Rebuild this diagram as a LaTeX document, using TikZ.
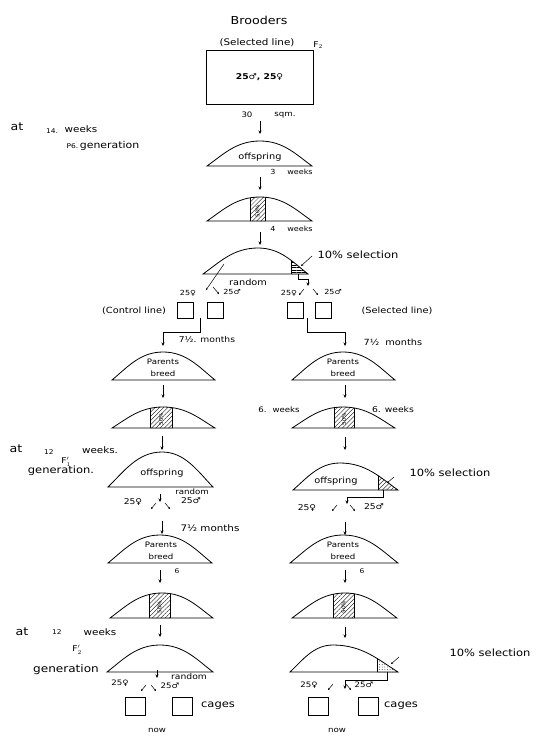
\documentclass[tikz,border=0pt]{standalone}
\usepackage{fontspec}
\setmainfont{DejaVu Sans}[FakeStretch=1.15]
\usetikzlibrary{arrows.meta,patterns,patterns.meta}
\newcommand\bellpath[5]{(#1,#3) .. controls ({#1+0.3*(#5-#1)},{#3-0.45*(#3-#4)}) and ({#5-0.45*(#5-#1)},#4) .. (#5,#4) .. controls ({#5+0.45*(#2-#5)},#4) and ({#2-0.3*(#2-#5)},{#3-0.45*(#3-#4)}) .. (#2,#3)}
\newcommand\bell[5]{\draw[ln] \bellpath{#1}{#2}{#3}{#4}{#5} -- cycle;}
\newcommand\bellhatch[8]{\begin{scope}\clip \bellpath{#1}{#2}{#3}{#4}{#5} -- cycle;
 \draw[line width=0.6pt,#8] (#6,0) rectangle (#7,#3);\end{scope}}
\newcommand\varr[4]{\coordinate (#1s) at (#2,#3); \coordinate (#1e) at (#2,#4); \draw[arr] (#1s) -- (#1e);}
\newcommand\sar[5]{\coordinate (#1s) at (#2,#3); \coordinate (#1e) at (#4,#5); \draw[sarr] (#1s) -- (#1e);}
\tikzset{
 ln/.style={line width=0.8pt},
 arr/.style={line width=0.6pt,-{Stealth[length=3.5pt,width=3pt]}},
 sarr/.style={line width=0.5pt,-{Stealth[length=2.2pt,width=2pt]}},
 cage/.style={draw,line width=0.7pt,inner sep=0pt,minimum width=16pt,minimum height=16pt},
 tf/.style={inner sep=0.5pt,font=\fontsize{#1}{#1}\selectfont},
 hd/.style={pattern={Lines[angle=45,distance=3pt,line width=0.35pt]}},
 hh/.style={pattern={Lines[angle=0,distance=2.5pt,line width=0.35pt]}},
 hx/.style={pattern={Dots[distance=2.6pt,radius=0.4pt]}},
}
\begin{document}
\begin{tikzpicture}[x=1pt,y=-1pt]
\useasboundingbox (0,0) rectangle (550,745);
% ---------- top
\node[tf=11] (brooders) at (259,20) {Brooders};
\node[tf=9] (selline) at (257,43) {(Selected line)};
\node[tf=8] (f2) at (318,45) {F$_2$};
\node[draw,line width=0.8pt,minimum width=107pt,minimum height=54pt,font=\bfseries\fontsize{8}{8}\selectfont] (brbox) at (259.5,77) {25♂, 25♀};
\node[tf=7.5] (n30) at (247,115) {30};
\node[tf=7.5] (sqm) at (285,115) {sqm.};
\varr{a1}{260}{121}{134}
% left label
\node[tf=11] (at1) at (17,127) {at};
\node[tf=6.5] (n14) at (52,131) {14.};
\node[tf=9] (wk1) at (81,129) {weeks};
\node[tf=9.5] (p6) at (103,146) {{\fontsize{6.5}{6.5}\selectfont P6.}\,generation};
% stage 1
\bell{207}{312}{166}{141}{260}
\node[tf=8.5] (off1) at (260,157) {offspring};
\node[tf=7] (n3) at (273,172) {3};
\node[tf=7] (w3) at (300,172) {weeks};
\varr{a2}{260}{177}{190}
% stage 2
\bellhatch{207}{312}{221}{197}{260}{250}{265}{hd}
\bell{207}{312}{221}{197}{260}
\node[tf=5,rotate=90] (p50a) at (257.5,211) {50\%};
\node[tf=7] (n4) at (273,229) {4};
\node[tf=7] (w4) at (300,229) {weeks};
\varr{a3}{260}{232}{245}
% stage 3
\bellhatch{203}{308}{274}{248}{258}{291}{315}{hh}
\bell{203}{308}{274}{248}{258}
\node[tf=10] (sel1) at (358,255) {10\% selection};
\sar{s1}{312}{256}{301}{266}
\node[tf=8.5] (rand1) at (248,282) {random};
\sar{r1}{224}{264}{206}{290}
\sar{r2}{213}{287}{219}{294}
\node[tf=7] (l25f) at (188,293) {25♀};
\node[tf=7] (l25m) at (232,292) {25♂};
\coordinate (h1) at (298,274); \coordinate (h1e) at (308,286);
\draw[arr] (h1) -- (298,279) -| (h1e);
\sar{r3}{304}{289}{299}{295}
\sar{r4}{313}{289}{318}{295}
\node[tf=7] (r25f) at (289,293) {25♀};
\node[tf=7] (r25m) at (333,292) {25♂};
% boxes
\node[cage] (b1) at (185,310) {};
\node[cage] (b2) at (215,310) {};
\node[cage] (b3) at (295,310) {};
\node[cage] (b4) at (323.5,310) {};
\node[tf=8.5] (ctrl) at (134,311) {(Control line)};
\node[tf=8.5] (selr) at (397,311) {(Selected line)};
\coordinate (k1) at (200,318); \coordinate (k1e) at (163,346);
\draw[arr] (k1) -- (200,332) -| (k1e);
\coordinate (k2) at (307,318); \coordinate (k2e) at (345,346);
\draw[arr] (k2) -- (307,332) -| (k2e);
\node[tf=8] (m1) at (207,340) {7½. months};
\node[tf=8.5] (m2) at (393,342) {7½\hspace{6pt}months};
% parents 1
\bell{112}{215}{380}{352}{163}
\node[tf=7.5] (pa1) at (163,362) {Parents};
\node[tf=7.5] (br1) at (163,374) {breed};
\bell{292}{395}{380}{352}{343}
\node[tf=7.5] (pa2) at (343,362) {Parents};
\node[tf=7.5] (br2) at (343,374) {breed};
\varr{a4}{163}{385}{398}
\varr{a5}{345}{385}{398}
% hatched 2
\bellhatch{112}{215}{428}{407}{163}{150}{172}{hd}
\bell{112}{215}{428}{407}{163}
\node[tf=5,rotate=90] (p50b) at (161,419) {50\%};
\bellhatch{292}{395}{428}{407}{343}{334}{354}{hd}
\bell{292}{395}{428}{407}{343}
\node[tf=5,rotate=90] (p50c) at (344,419) {50\%};
\node[tf=7.5] (w6a) at (279,410) {6.\hspace{6pt}weeks};
\node[tf=8] (w6b) at (393,410) {6.\hspace{4pt}weeks};
\varr{a6}{162}{436}{450}
\varr{a7}{345}{437}{450}
% F1 labels
\node[tf=11] (at2) at (16,449) {at};
\node[tf=6.5] (n12a) at (49,452) {12};
\node[tf=9] (wk2) at (100,450) {weeks.};
\node[tf=8] (f1) at (66,462) {F$'_1$};
\node[tf=10] (gen2) at (61,471) {generation.};
% offspring F1 left
\bell{108}{213}{487}{452}{162}
\node[tf=8.5] (off2) at (162,473) {offspring};
\node[tf=7.5] (rand2) at (192,492) {random};
\varr{a8}{160}{494}{502}
\sar{r5}{156}{503}{151}{509}
\sar{r6}{165}{503}{170}{509}
\node[tf=8] (f25a) at (133,502) {25♀};
\node[tf=8] (m25a) at (191,501) {25♂};
\varr{a9}{162}{521}{534}
\node[tf=9] (m3) at (210,528) {7½ months};
% offspring F1 right
\bellhatch{293}{398}{490}{463}{340}{378}{402}{hd}
\bell{293}{398}{490}{463}{340}
\node[tf=8.5] (off3) at (336,481) {offspring};
\sar{s2}{394}{477}{387}{483}
\node[tf=10] (sel2) at (450,473) {10\% selection};
\coordinate (h2) at (383,490); \coordinate (h2e) at (347,504);
\draw[arr] (h2) -- (383,497) -| (h2e);
\sar{r7}{337}{505}{332}{511}
\sar{r8}{350}{505}{355}{511}
\node[tf=8] (f25b) at (307,508) {25♀};
\node[tf=8] (m25b) at (374,507) {25♂};
\varr{a10}{345}{522}{535}
% parents 2
\bell{108}{212}{563}{535}{160}
\node[tf=7.5] (pa3) at (161,545) {Parents};
\node[tf=7.5] (br3) at (161,557) {breed};
\bell{290}{398}{563}{535}{343}
\node[tf=7.5] (pa4) at (343,545) {Parents};
\node[tf=7.5] (br4) at (343,557) {breed};
\varr{a11}{160}{570}{583}
\node[tf=6.5] (six1) at (177,571) {6};
\varr{a12}{345}{570}{583}
\node[tf=6.5] (six2) at (362,571) {6};
% hatched 3
\bellhatch{110}{213}{618}{593}{162}{149}{170}{hd}
\bell{110}{213}{618}{593}{162}
\node[tf=5,rotate=90] (p50d) at (159.5,607) {50\%};
\bellhatch{292}{397}{618}{593}{345}{333}{354}{hd}
\bell{292}{397}{618}{593}{345}
\node[tf=5,rotate=90] (p50e) at (343.5,607) {50\%};
\varr{a13}{160}{625}{637}
\varr{a14}{345}{627}{638}
% F2 labels
\node[tf=11] (at3) at (22,632) {at};
\node[tf=6.5] (n12b) at (57,632) {12};
\node[tf=9] (wk3) at (100,632) {weeks};
\node[tf=8] (f2b) at (77,650) {F$'_2$};
\node[tf=10.5] (gen3) at (66,670) {generation};
% last curves
\bell{107}{213}{672}{645}{160}
\node[tf=8] (rand3) at (189,677) {random};
\varr{a15}{157}{670}{678}
\sar{r9}{146}{685}{141}{691}
\sar{r10}{151}{685}{156}{691}
\node[tf=7.5] (f25c) at (120,683) {25♀};
\node[tf=7.5] (m25c) at (170,686) {25♂};
\bellhatch{290}{398}{672}{645}{333}{377}{402}{hx}
\bell{290}{398}{672}{645}{333}
\sar{s3}{399}{657}{391}{664}
\node[tf=10] (sel3) at (490,653) {10\% selection};
\coordinate (h3) at (387,672); \coordinate (h3e) at (345,689);
\draw[arr] (h3) -- (387,680) -| (h3e);
\sar{r11}{333}{684}{328}{690}
\sar{r12}{346}{684}{351}{690}
\node[tf=7.5] (f25d) at (309,685) {25♀};
\node[tf=7.5] (m25d) at (364,685) {25♂};
% cages
\node[cage,minimum width=20pt,minimum height=18pt] (c1) at (135,706) {};
\node[cage,minimum width=20pt,minimum height=18pt] (c2) at (182.5,706) {};
\node[cage,minimum width=20pt,minimum height=18pt] (c3) at (318,706) {};
\node[cage,minimum width=20pt,minimum height=18pt] (c4) at (368,706) {};
\node[tf=10] (cg1) at (218,706) {cages};
\node[tf=10] (cg2) at (401,706) {cages};
\node[tf=7.5] (now1) at (157,730) {now};
\node[tf=7.5] (now2) at (337,730) {now};
\end{tikzpicture}
\end{document}
